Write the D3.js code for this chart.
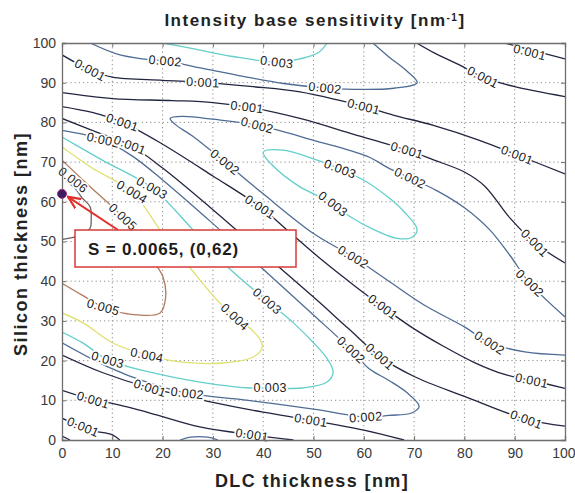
<!DOCTYPE html>
<html>
<head>
<meta charset="utf-8">
<script src="https://cdn.jsdelivr.net/npm/d3@7"></script>
<style>
body { margin: 0; background: #fff; }
text { font-family: Arial, "Liberation Sans", sans-serif; }
</style>
</head>
<body>
<svg id="viz"></svg>
<script>

// contour levels and their colours (jet-ish, washed out like the scan)
var levels = [0.001, 0.002, 0.003, 0.004, 0.005, 0.006]
var levelColors = ["#22253f", "#4f6c94", "#62cfca", "#e0e070", "#b27a5e", "#6d6266"]

var xTicks = [0, 10, 20, 30, 40, 50, 60, 70, 80, 90, 100]
var yTicks = [0, 10, 20, 30, 40, 50, 60, 70, 80, 90, 100]

// contour lines, [DLC nm, Si nm]
// level 0.001
var c1a = [[88,100],[93,98.3],[100,96]]
var c1b = [[70.5,100],[74,97.5],[79,94.5],[83.7,91.4],[90,89],[100,86.5]]
var c1c = [[0,97],[5.6,93.2],[10,91.4],[20,90.6],[28,90.1],[38,89],[47.3,87.7],[55,85.6],[60,84],[66,81.8],[74,79.2],[83,75.5],[90.5,71.8],[100,67]]
var c1d = [[0,87.5],[10,86],[22,85.5],[30,85],[36.8,83.9],[47.3,81],[58,77],[68.6,73],[74,70.5],[80,67.5],[84,64],[89,56],[94,49.6],[100,44.6]]
var c1e = [[0,84],[6,82.5],[12,80],[20,74.5],[30,66.5],[39.4,58.7],[46,51.5],[52,45],[58,39],[63.8,33.5],[70,28],[76,23.5],[82,19.5],[88,16.5],[93.4,15],[100,13]]
var c1f = [[0,81],[7,77.5],[13.5,74.3],[20,68.5],[30,58],[40,47],[50,36],[57,28],[63.2,21],[70,16],[80,11],[92.3,5.2],[100,3.5]]
var c1g = [[0,21.4],[8,17],[17.5,13.1],[30,9.5],[40,7],[49.5,5],[60,2.5],[68,0]]
var c1h = [[0,12.5],[6.2,10.1],[10,9.2],[17.5,6.8],[27.4,3.3],[37.8,1.3],[46,0]]
var c1i = [[0,5.5],[5.6,2.5],[10,1.3],[11.5,0]]
var c1j = [[0,1],[1.6,0]]
// level 0.002
var c2a = [[5.6,100],[11,97.2],[16,96],[20.5,95.5],[28,93.6],[36,91.6],[44,89.8],[52.3,88.7],[60,88.3],[66,88.6],[70.6,90],[68.5,93],[65,96.5],[61.8,100]]
var c2b = [[100,31],[93,39.5],[89,46.6],[85,53],[80,58.5],[74.5,62.8],[69.2,66],[65.2,68.3],[60.6,71.5],[50,75.5],[38.8,79.3],[30,80.8],[24,81.5],[21.5,81],[22.5,79.5],[26,76.5],[32.4,70],[40,62],[50,52],[57.9,46.1],[65,40],[72,34],[80,28.5],[85,24.5],[92,22.2],[100,21.4]]
var c2c = [[0,78],[8.2,75.6],[14,71.5],[20,65.5],[30,54.5],[40,43],[50,31.5],[57.5,22.7],[61,18],[65,15],[68.5,12],[71,8.5],[69.5,6.8],[65,6.2],[60.4,5.8],[50,7.8],[37,10],[24.9,11.8],[17,14.5],[9,18.5],[0,24.5]]
var c2d = [[23.5,0],[25.5,0.7],[29,0.7],[31,0]]
// level 0.003
var c3a = [[20,100],[26,98.6],[34,96.6],[42.7,95.2],[47.3,96],[51,97.6],[52.7,100]]
var c3b = [[40,72.5],[44,73],[50.7,70.5],[55.3,68.3],[60.6,65],[65,61],[68,57.5],[70.6,53],[69.5,51],[66.6,50.8],[62,53],[57,56.5],[53.9,59.5],[47,64],[42,69]]
var c3c = [[0,76.3],[8,70.5],[17.9,63.5],[26,53],[33,43.5],[40.8,35],[46,29.5],[50,24.5],[52.7,20.5],[53.9,17.1],[52.7,14.6],[47.9,13.1],[41.4,13.1],[37.4,13.1],[27.4,14.6],[17.5,17.1],[9.1,20.2],[4.2,24.4],[0,27.2]]
// level 0.004
var c4a = [[0,73.8],[6,68.5],[13.9,62.5],[20,52],[26,42.5],[31,35],[34.4,31],[37.5,28],[39.3,25.5],[39.8,23.4],[38,20.9],[32,19.4],[24,19.6],[16.9,21.4],[10,24.5],[4.2,29.5],[0,32]]
// level 0.005
var c5a = [[0,70.5],[5,64.5],[12.1,56.2],[16,50.5],[18.1,45.3],[20.1,41],[20.6,36],[19.5,32],[12.9,31.8],[8.2,33.5],[4,36.5],[0,39.5]]
// level 0.006
var c6a = [[0,66],[2.5,63.5],[4,61],[5.6,58.7],[5.8,55.5],[5.6,53.4],[3.5,51.5],[1.2,50.8],[0,50.5]]

var contourLines = [
	{level: 0.001, pts: c1a}, {level: 0.001, pts: c1b}, {level: 0.001, pts: c1c},
	{level: 0.001, pts: c1d}, {level: 0.001, pts: c1e}, {level: 0.001, pts: c1f},
	{level: 0.001, pts: c1g}, {level: 0.001, pts: c1h}, {level: 0.001, pts: c1i},
	{level: 0.001, pts: c1j},
	{level: 0.002, pts: c2a}, {level: 0.002, pts: c2b}, {level: 0.002, pts: c2c},
	{level: 0.002, pts: c2d},
	{level: 0.003, pts: c3a}, {level: 0.003, pts: c3b, closed: true}, {level: 0.003, pts: c3c},
	{level: 0.004, pts: c4a},
	{level: 0.005, pts: c5a},
	{level: 0.006, pts: c6a}
]

// inline labels [level, x, y]
var labelLevels = [0.001,0.002,0.001,0.003,0.002,0.001,0.001,0.001,0.001,0.001,0.002,0.001,0.001,
	0.002,0.001,0.006,0.004,0.003,0.002,0.003,0.002,0.003,0.001,0.005,0.001,0.002,0.002,0.001,
	0.003,0.005,0.004,0.002,0.002,0.001,0.003,0.004,0.001,0.002,0.003,0.001,0.001,0.002,0.001,
	0.001,0.001,0.001]
var labelX = [5.6,20.5,28,42.7,52.3,60,83.7,93,12,36.8,38.8,68.6,90.5,
	8.2,13.5,2.2,13.9,17.9,32.4,55.3,69.2,53.9,39.4,12.1,94,57.9,93,63.8,
	40.8,8.2,34.4,57.5,85,63.2,9.1,16.9,17.5,24.9,41.4,93.4,6.2,60.4,49.5,
	92.3,4.2,37.8]
var labelY = [93.2,95.5,90.1,95.2,88.7,84,91.4,97.7,80,83.9,79.3,73,71.8,
	75.6,74.3,65.5,62.5,63.5,70,68.3,66,59.5,58.7,56.2,49.6,46.1,39.5,33.5,
	35,33.5,31,22.7,24.5,21,20.2,21.4,13.1,11.8,13.1,15,10.1,5.8,5,
	5.2,3.3,1.3]

// annotated maximum
var peakPoint = [0, 62]
var peakText = "S = 0.0065, (0,62)"

var width = 575
var height = 493
var plotL = 62, plotR = 565, plotT = 43, plotB = 440

var svg = d3.select("#viz")
	.attr("width", width)
	.attr("height", height)

var x = d3.scaleLinear().domain([0, 100]).range([plotL, plotR])
var y = d3.scaleLinear().domain([0, 100]).range([plotB, plotT])

var color = d3.scaleOrdinal().domain(levels).range(levelColors)

svg.append("clipPath").attr("id", "plotclip")
	.append("rect")
	.attr("x", plotL).attr("y", plotT)
	.attr("width", plotR - plotL).attr("height", plotB - plotT)

// dotted grid
svg.append("g").selectAll("line")
	.data(xTicks.slice(1, -1))
	.enter().append("line")
	.attr("x1", d => x(d)).attr("x2", d => x(d))
	.attr("y1", plotT).attr("y2", plotB)
	.attr("stroke", "#8a8a8a").attr("stroke-dasharray", "1.2,3")

svg.append("g").selectAll("line")
	.data(yTicks.slice(1, -1))
	.enter().append("line")
	.attr("y1", d => y(d)).attr("y2", d => y(d))
	.attr("x1", plotL).attr("x2", plotR)
	.attr("stroke", "#8a8a8a").attr("stroke-dasharray", "1.2,3")

// contours
var lineOpen = d3.line().x(d => x(d[0])).y(d => y(d[1])).curve(d3.curveCatmullRom)
var lineClosed = d3.line().x(d => x(d[0])).y(d => y(d[1])).curve(d3.curveCatmullRomClosed)

svg.append("g").attr("clip-path", "url(#plotclip)")
	.selectAll("path")
	.data(contourLines)
	.enter().append("path")
	.attr("d", d => d.closed ? lineClosed(d.pts) : lineOpen(d.pts))
	.attr("fill", "none")
	.attr("stroke", d => color(d.level))
	.attr("stroke-width", 1.3)

// label angle follows the nearest line of the same level
function labelAngle(level, px, py) {
	var best = 0, bd = Infinity
	contourLines.filter(c => c.level == level).forEach(c => {
		for (var i = 0; i < c.pts.length - 1; i++) {
			var ax = x(c.pts[i][0]), ay = y(c.pts[i][1])
			var bx = x(c.pts[i+1][0]), by = y(c.pts[i+1][1])
			var dx = bx - ax, dy = by - ay
			var t = ((px - ax) * dx + (py - ay) * dy) / (dx * dx + dy * dy)
			t = Math.max(0, Math.min(1, t))
			var d = Math.hypot(px - (ax + t * dx), py - (ay + t * dy))
			if (d < bd) { bd = d; best = Math.atan2(dy, dx) * 180 / Math.PI }
		}
	})
	if (best > 90) best -= 180
	if (best < -90) best += 180
	return best
}

var labels = labelLevels.map((lv, i) => ({level: lv, x: labelX[i], y: labelY[i]}))

svg.append("g").selectAll("text")
	.data(labels)
	.enter().append("text")
	.attr("transform", d => "translate(" + x(d.x) + "," + y(d.y) + ") rotate(" + labelAngle(d.level, x(d.x), y(d.y)) + ")")
	.attr("text-anchor", "middle")
	.attr("dy", "0.35em")
	.attr("font-size", 12.5)
	.attr("letter-spacing", 0.4)
	.attr("fill", "#1c1c1c")
	.attr("stroke", "#fff")
	.attr("stroke-width", 3.5)
	.attr("paint-order", "stroke")
	.text(d => d.level.toFixed(3))

// axes with inward ticks on all four sides
svg.append("g")
	.attr("transform", "translate(0," + plotB + ")")
	.call(d3.axisBottom(x).tickValues(xTicks).tickSize(-4).tickPadding(8).tickFormat(d3.format("d")))
svg.append("g")
	.attr("transform", "translate(0," + plotT + ")")
	.call(d3.axisTop(x).tickValues(xTicks).tickSize(-4).tickFormat(""))
svg.append("g")
	.attr("transform", "translate(" + plotL + ",0)")
	.call(d3.axisLeft(y).tickValues(yTicks).tickSize(-4).tickPadding(6).tickFormat(d3.format("d")))
svg.append("g")
	.attr("transform", "translate(" + plotR + ",0)")
	.call(d3.axisRight(y).tickValues(yTicks).tickSize(-4).tickFormat(""))

svg.selectAll(".domain").attr("stroke", "#6e6e6e").attr("stroke-width", 1.3)
svg.selectAll(".tick line").attr("stroke", "#6e6e6e")
svg.selectAll(".tick text").attr("font-size", 14).attr("fill", "#3a3a3a")
// keep the last x label inside the window
svg.selectAll(".tick text").filter(d => d === 100).attr("text-anchor", "end").attr("dx", function() {
	return this.parentNode.parentNode.getAttribute("transform").indexOf("(0," + plotB) >= 0 ? 10 : null
})

// title and axis names
var title = svg.append("text")
	.attr("x", 315).attr("y", 26)
	.attr("text-anchor", "middle")
	.attr("font-size", 17).attr("font-weight", "bold").attr("letter-spacing", 1.5).attr("fill", "#222")
	.text("Intensity base sensitivity [nm")
title.append("tspan").attr("baseline-shift", "super").attr("font-size", 10).text("-1")
title.append("tspan").text("]")

svg.append("text")
	.attr("x", 312).attr("y", 487)
	.attr("text-anchor", "middle")
	.attr("font-size", 18).attr("font-weight", "bold").attr("letter-spacing", 1.4).attr("fill", "#222")
	.text("DLC thickness [nm]")

svg.append("text")
	.attr("transform", "translate(27,244) rotate(-90)")
	.attr("text-anchor", "middle")
	.attr("font-size", 18).attr("font-weight", "bold").attr("letter-spacing", 1.5).attr("fill", "#222")
	.text("Silicon thickness [nm]")

// annotation: arrow, box, marker
svg.append("defs").append("marker")
	.attr("id", "arrowhead")
	.attr("viewBox", "0 0 10 10")
	.attr("refX", 9).attr("refY", 5)
	.attr("markerWidth", 7).attr("markerHeight", 7)
	.attr("orient", "auto")
	.append("path")
	.attr("d", "M0,1 L9,5 L0,9")
	.attr("fill", "none").attr("stroke", "#e0302a").attr("stroke-width", 1.6)

svg.append("line")
	.attr("x1", 118).attr("y1", 230)
	.attr("x2", x(peakPoint[0]) + 6).attr("y2", y(peakPoint[1]) + 3)
	.attr("stroke", "#e0302a").attr("stroke-width", 2)
	.attr("marker-end", "url(#arrowhead)")

svg.append("rect")
	.attr("x", 75).attr("y", 230).attr("width", 221).attr("height", 37)
	.attr("fill", "#fff").attr("stroke", "#d63a36").attr("stroke-width", 1.5)

svg.append("text")
	.attr("x", 88).attr("y", 255)
	.attr("font-size", 17).attr("font-weight", "bold").attr("letter-spacing", 0.8).attr("fill", "#1c1c1c")
	.text(peakText)

svg.append("circle")
	.attr("cx", x(peakPoint[0])).attr("cy", y(peakPoint[1]))
	.attr("r", 4.5)
	.attr("fill", "#3e1c62").attr("stroke", "#a03070").attr("stroke-width", 1)

</script>
</body>
</html>
